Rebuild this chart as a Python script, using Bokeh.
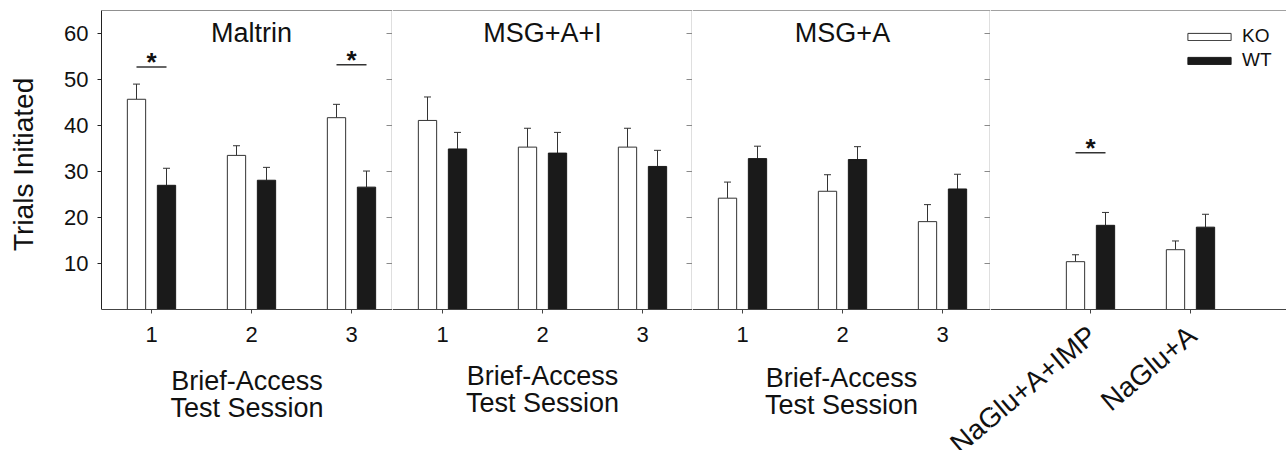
import math
from bokeh.plotting import figure
from bokeh.models import (ColumnDataSource, FixedTicker, LinearAxis, Range1d,
                          Whisker, TeeHead, Span, Label, Legend, LegendItem,
                          BoxAnnotation)
from bokeh.layouts import row
from bokeh.embed import file_html
from bokeh.resources import INLINE
from bokeh.core.properties import value

FONT = "Liberation Sans"

# ---------------- data ----------------
sessions = [1, 2, 3]
session_labels = ["1", "2", "3"]
panel_titles = ["Maltrin", "MSG+A+I", "MSG+A", ""]
naglu_positions = [1, 2]
naglu_labels = ["NaGlu+A+IMP", "NaGlu+A"]
y_ticks = [10, 20, 30, 40, 50, 60]

ko_maltrin = [45.7, 33.5, 41.7]
ko_maltrin_err = [3.3, 2.1, 2.9]
wt_maltrin = [27.0, 28.1, 26.6]
wt_maltrin_err = [3.7, 2.8, 3.5]

ko_msg_a_i = [41.1, 35.3, 35.3]
ko_msg_a_i_err = [5.1, 4.1, 4.1]
wt_msg_a_i = [34.9, 34.0, 31.1]
wt_msg_a_i_err = [3.6, 4.5, 3.5]

ko_msg_a = [24.2, 25.7, 19.1]
ko_msg_a_err = [3.5, 3.6, 3.7]
wt_msg_a = [32.8, 32.6, 26.2]
wt_msg_a_err = [2.7, 2.8, 3.2]

ko_naglu = [10.4, 13.0]
ko_naglu_err = [1.5, 1.9]
wt_naglu = [18.3, 17.9]
wt_naglu_err = [2.8, 2.8]

# significance markers: panel index, group position, height of the line
sig_panel = [0, 0, 3]
sig_pos = [1, 3, 1]
sig_y = [52.7, 53.2, 34.1]

# ---------------- style ----------------
OFF = 0.15
BW = 0.183
KO_LINE = "#333333"
WT_FILL = "#1a1a1a"
DIV = "#8a8a8a"
Y_MAX = 65
TOP = 10
BOTTOM = 141           # pixels below the value axis baseline
PX_PER_Y = (450 - TOP - BOTTOM) / Y_MAX
Y_LO = -BOTTOM / PX_PER_Y
SLANT = math.radians(40)
SLANT_DX = 0.02        # data units right of the tick
SLANT_DY = -22 / PX_PER_Y

panels = [
    dict(pos=sessions, labels=session_labels, ko=ko_maltrin, koe=ko_maltrin_err,
         wt=wt_maltrin, wte=wt_maltrin_err, xr=(0.5, 3.41), width=392, left=101),
    dict(pos=sessions, labels=session_labels, ko=ko_msg_a_i, koe=ko_msg_a_i_err,
         wt=wt_msg_a_i, wte=wt_msg_a_i_err, xr=(0.5, 3.5), width=300, left=0),
    dict(pos=sessions, labels=session_labels, ko=ko_msg_a, koe=ko_msg_a_err,
         wt=wt_msg_a, wte=wt_msg_a_err, xr=(0.5, 3.48), width=298, left=0),
    dict(pos=naglu_positions, labels=naglu_labels, ko=ko_naglu, koe=ko_naglu_err,
         wt=wt_naglu, wte=wt_naglu_err, xr=(0.0, 2.96), width=296, left=0),
]
label_standoffs = [21, 16, 18]


def slanted_label(x, text):
    return Label(x=x, y=SLANT_DY, text=text, angle=SLANT, text_align="right",
                 text_baseline="alphabetic", text_font=FONT,
                 text_font_size="28px", text_color="#111111")


figs = []
for i, pd in enumerate(panels):
    last = (i == 3)
    p = figure(width=pd["width"], height=450, output_backend="svg",
               toolbar_location=None, x_range=Range1d(*pd["xr"]),
               y_range=Range1d(Y_LO, Y_MAX),
               y_axis_location="left" if i == 0 else None,
               x_axis_location=None,
               min_border_left=pd["left"], min_border_right=0,
               min_border_top=TOP, min_border_bottom=0)
    p.outline_line_color = None
    p.xgrid.visible = False
    p.ygrid.visible = False
    p.background_fill_color = "white"
    p.border_fill_color = "white"

    pos = pd["pos"]
    ko_x = [x - OFF for x in pos]
    wt_x = [x + OFF for x in pos]
    ko_src = ColumnDataSource(dict(x=ko_x, top=pd["ko"],
                                   upper=[a + b for a, b in zip(pd["ko"], pd["koe"])]))
    wt_src = ColumnDataSource(dict(x=wt_x, top=pd["wt"],
                                   upper=[a + b for a, b in zip(pd["wt"], pd["wte"])]))

    for src in (ko_src, wt_src):
        w = Whisker(base="x", lower="top", upper="upper", source=src,
                    dimension="height", line_color=KO_LINE, line_width=1,
                    lower_head=None,
                    upper_head=TeeHead(size=7, line_color=KO_LINE, line_width=1))
        p.add_layout(w)

    r_ko = p.vbar(x="x", top="top", width=BW, bottom=0, source=ko_src,
                  fill_color="white", line_color=KO_LINE, line_width=1)
    r_wt = p.vbar(x="x", top="top", width=BW, bottom=0, source=wt_src,
                  fill_color=WT_FILL, line_color=WT_FILL, line_width=1)

    # significance
    sx = [sig_pos[k] for k in range(len(sig_panel)) if sig_panel[k] == i]
    sy = [sig_y[k] for k in range(len(sig_panel)) if sig_panel[k] == i]
    if sx:
        ssrc = ColumnDataSource(dict(x0=[x - OFF for x in sx], x1=[x + OFF for x in sx],
                                     x=sx, y=sy, t=["*"] * len(sx)))
        p.segment(x0="x0", x1="x1", y0="y", y1="y", source=ssrc,
                  line_color="#333333", line_width=1.5)
        p.text(x="x", y="y", text="t", source=ssrc, text_align="center",
               text_baseline="alphabetic", y_offset=-5,
               text_font=value(FONT), text_font_size="26px",
               text_font_style="bold", text_color="#111111")

    # panel title
    if panel_titles[i]:
        p.add_layout(Label(x=pos[1], y=60.2, text=panel_titles[i],
                           text_align="center", text_baseline="alphabetic",
                           text_font=FONT, text_font_size="27px",
                           text_color="#111111"))

    # top border
    p.add_layout(Span(location=Y_MAX, dimension="width",
                      line_color="#444444" if i else "#222222", line_width=1))

    # category axis drawn on the value baseline
    xa = LinearAxis(fixed_location=0, ticker=FixedTicker(ticks=pos))
    p.add_layout(xa, "below")
    xa.major_tick_out = 4
    xa.major_tick_in = 0
    xa.minor_tick_line_color = None
    xa.axis_line_color = "#444444"
    xa.major_tick_line_color = "#444444"
    xa.major_label_text_font = FONT
    xa.major_label_text_color = "#111111"
    if not last:
        xa.major_label_overrides = {x: lab for x, lab in zip(pos, pd["labels"])}
        xa.major_label_text_font_size = "22px"
        xa.major_label_standoff = 13
        xa.axis_label = "Brief-Access\nTest Session"
        xa.axis_label_text_font = FONT
        xa.axis_label_text_font_size = "27px"
        xa.axis_label_text_font_style = "normal"
        xa.axis_label_text_color = "#111111"
        xa.axis_label_text_line_height = 0.9
        xa.axis_label_standoff = label_standoffs[i]
    else:
        xa.major_label_overrides = {x: "" for x in pos}
        # slanted category names hanging from the ticks
        for x, lab in zip(pos, pd["labels"]):
            p.add_layout(slanted_label(x + SLANT_DX, lab))

    # the long slanted name reaches into the previous panel: draw its
    # left part there too, at the same screen position
    if i == 2:
        nxt = panels[3]
        for x, lab in zip(nxt["pos"], nxt["labels"]):
            p.add_layout(slanted_label(pd["xr"][1] + (x - nxt["xr"][0]) + SLANT_DX, lab))

    # value axis (first panel only)
    if i == 0:
        ya = p.yaxis[0]
        ya.bounds = (0, Y_MAX)
        ya.ticker = FixedTicker(ticks=y_ticks)
        ya.major_tick_out = 4
        ya.major_tick_in = 0
        ya.minor_tick_line_color = None
        ya.axis_line_color = "#222222"
        ya.major_tick_line_color = "#222222"
        ya.major_label_text_font = FONT
        ya.major_label_text_font_size = "22px"
        ya.major_label_text_color = "#111111"
        ya.major_label_standoff = 9
        # leading no-break spaces centre the title on the value part of the axis
        ya.axis_label = "\u00a0" * 17 + "Trials Initiated"
        ya.axis_label_text_font = FONT
        ya.axis_label_text_font_size = "28px"
        ya.axis_label_text_font_style = "normal"
        ya.axis_label_text_color = "#111111"
        ya.axis_label_standoff = 22

    # divider on the right with inward ticks
    if not last:
        xloc = pd["xr"][1] - 0.005
        p.add_layout(BoxAnnotation(left=xloc, right=xloc, bottom=0, top=Y_MAX,
                                   fill_alpha=0, line_color=DIV, line_width=1))
        ra = LinearAxis(fixed_location=xloc, bounds=(0, Y_MAX),
                        ticker=FixedTicker(ticks=y_ticks),
                        major_label_overrides={t: "" for t in y_ticks},
                        major_tick_in=6, major_tick_out=0,
                        minor_tick_line_color=None,
                        axis_line_color=DIV, major_tick_line_color=DIV)
        p.add_layout(ra, "right")
    else:
        legend = Legend(items=[LegendItem(label="KO", renderers=[r_ko]),
                               LegendItem(label="WT", renderers=[r_wt])],
                        location=(192, 238 + BOTTOM), glyph_width=54, glyph_height=9,
                        label_standoff=6, spacing=2, padding=0, margin=0,
                        border_line_color=None, background_fill_alpha=0,
                        label_text_font=FONT, label_text_font_size="19px",
                        label_text_color="#111111")
        p.add_layout(legend)
    figs.append(p)

layout = row(*figs, spacing=0)
open("out.html", "w").write(file_html(layout, INLINE))
